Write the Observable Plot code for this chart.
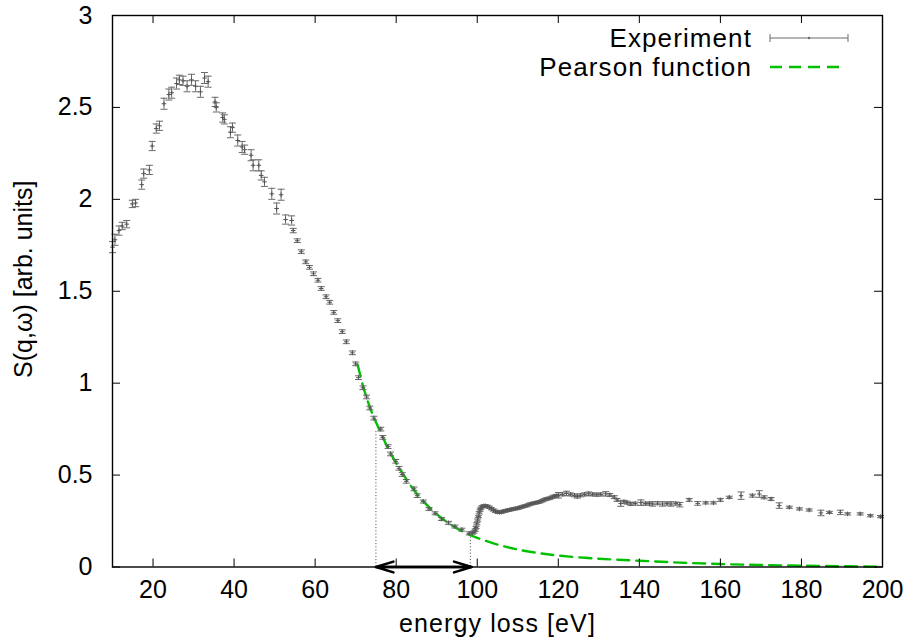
<!DOCTYPE html>
<html><head><meta charset="utf-8">
<script src="https://cdn.jsdelivr.net/npm/d3@7"></script>
<script src="https://cdn.jsdelivr.net/npm/@observablehq/plot@0.6"></script>
<style>body{margin:0;background:#fff;font-family:"Liberation Sans",Arial,sans-serif}</style>
</head><body><div id="chart"></div>
<script>
// Experiment: energy loss [eV], S(q,w), error
const energy = [10.0,10.6,11.6,12.4,13.5,14.9,15.7,17.2,17.7,19.1,19.8,20.8,21.6,22.7,23.9,24.6,25.8,26.5,27.4,28.4,29.5,30.5,31.7,32.7,33.6,35.3,35.6,37.2,37.6,39.1,39.6,40.9,42.0,42.6,44.2,44.7,46.1,46.7,47.5,49.3,50.5,51.6,52.7,54.2,54.6,55.6,56.6,57.7,58.6,59.6,60.7,61.5,62.7,63.6,64.6,65.6,66.7,67.7,69.2,70.0,70.7,71.8,72.7,73.5,74.5,76.2,76.7,78.0,78.6,79.9,80.7,81.5,82.5,84.4,85.2,86.7,88.1,89.6,91.2,92.9,94.5,96.2,98.0,98.8,99.2,99.5,99.7,99.9,100.1,100.3,100.5,100.7,100.9,101.2,101.6,102.0,102.5,103.0,103.5,104.0,104.5,105.0,105.5,106.0,106.5,107.0,107.5,108.0,108.5,109.0,109.5,110.0,110.5,111.0,111.5,112.0,112.5,113.0,113.5,114.0,114.5,115.0,115.5,116.0,116.5,117.0,117.5,118.0,118.5,119.0,119.5,120.0,121.0,122.0,123.0,124.0,124.7,125.5,126.5,127.5,128.5,129.5,130.5,131.7,132.7,133.8,134.5,135.4,136.2,137.0,137.9,139.0,140.4,141.5,142.5,143.3,144.5,145.7,146.8,147.8,149.0,150.0,152.3,154.4,156.4,158.3,160.0,162.2,165.1,167.9,169.6,170.8,172.5,174.5,177.0,179.5,181.9,184.8,186.9,189.6,191.4,194.5,197.0,199.5];
const sqw = [1.74,1.78,1.83,1.855,1.865,1.975,1.98,2.08,2.14,2.16,2.29,2.385,2.40,2.52,2.57,2.58,2.63,2.65,2.645,2.615,2.65,2.615,2.585,2.66,2.64,2.53,2.50,2.445,2.435,2.365,2.39,2.32,2.285,2.27,2.24,2.185,2.185,2.13,2.095,2.03,1.95,2.025,1.89,1.885,1.83,1.775,1.715,1.66,1.63,1.595,1.56,1.515,1.47,1.44,1.385,1.34,1.28,1.225,1.165,1.105,1.03,0.975,0.925,0.865,0.81,0.75,0.705,0.655,0.615,0.575,0.537,0.503,0.466,0.425,0.388,0.356,0.316,0.292,0.261,0.24,0.22,0.203,0.183,0.185,0.19,0.20,0.215,0.235,0.255,0.275,0.295,0.31,0.32,0.328,0.332,0.333,0.33,0.325,0.317,0.31,0.303,0.299,0.297,0.299,0.303,0.306,0.308,0.311,0.313,0.316,0.318,0.32,0.323,0.327,0.33,0.333,0.337,0.342,0.345,0.347,0.35,0.352,0.355,0.36,0.365,0.37,0.372,0.375,0.38,0.385,0.388,0.39,0.395,0.40,0.395,0.39,0.383,0.39,0.395,0.398,0.395,0.393,0.395,0.398,0.392,0.38,0.365,0.345,0.355,0.35,0.343,0.345,0.35,0.345,0.345,0.343,0.347,0.343,0.345,0.343,0.345,0.339,0.365,0.346,0.349,0.349,0.365,0.379,0.388,0.388,0.397,0.379,0.37,0.334,0.325,0.316,0.31,0.294,0.297,0.297,0.289,0.289,0.279,0.274];
const sqwErr = [0.03,0.03,0.025,0.02,0.02,0.02,0.02,0.025,0.025,0.025,0.025,0.025,0.025,0.03,0.03,0.03,0.03,0.025,0.025,0.03,0.03,0.03,0.03,0.03,0.03,0.025,0.025,0.025,0.025,0.03,0.025,0.03,0.03,0.025,0.03,0.03,0.03,0.025,0.025,0.03,0.03,0.03,0.025,0.025,0.012,0.01,0.01,0.01,0.01,0.01,0.01,0.01,0.01,0.01,0.01,0.01,0.01,0.01,0.01,0.01,0.01,0.01,0.01,0.01,0.01,0.01,0.01,0.01,0.01,0.01,0.01,0.01,0.01,0.01,0.01,0.008,0.008,0.008,0.008,0.008,0.008,0.008,0.008,0.006,0.006,0.006,0.006,0.006,0.006,0.006,0.006,0.006,0.006,0.006,0.006,0.006,0.006,0.006,0.006,0.006,0.006,0.006,0.006,0.006,0.006,0.006,0.006,0.006,0.006,0.006,0.006,0.006,0.006,0.006,0.006,0.006,0.006,0.006,0.006,0.006,0.006,0.006,0.006,0.006,0.006,0.006,0.006,0.006,0.006,0.006,0.006,0.015,0.008,0.012,0.008,0.008,0.008,0.008,0.008,0.01,0.008,0.008,0.008,0.012,0.008,0.008,0.008,0.015,0.008,0.008,0.008,0.008,0.015,0.008,0.008,0.012,0.008,0.012,0.008,0.012,0.008,0.012,0.008,0.01,0.006,0.006,0.008,0.006,0.02,0.008,0.018,0.008,0.008,0.015,0.006,0.006,0.006,0.015,0.006,0.012,0.006,0.006,0.006,0.006];
// Pearson function fit
const pearsonEnergy = [70.5,72,74,76,78,80,82,84,86,88,90,92,94,96,98,100,105,110,115,120,130,140,150,160,170,180,190,200];
const pearsonS = [1.10,0.97,0.84,0.74,0.645,0.565,0.495,0.43,0.375,0.328,0.288,0.253,0.223,0.197,0.176,0.158,0.122,0.095,0.076,0.062,0.045,0.034,0.024,0.016,0.011,0.007,0.004,0.002];
// dotted markers and arrow
const markerEnergy = [75.0, 98.3];
const markerTop = [0.745, 0.17];
const arrowFrom = [98.6, 75.0];
const arrowTo = [75.0, 98.6];
const xTicks = [20,40,60,80,100,120,140,160,180,200];
const yTicks = [0,0.5,1,1.5,2,2.5,3];
const legendLabels = ["Experiment", "Pearson function"];
const xTitle = "energy loss [eV]";
const yTitle = "S(q,ω) [arb. units]";

const expData = energy.map((e, i) => ({e, s: sqw[i], lo: sqw[i] - sqwErr[i], hi: sqw[i] + sqwErr[i]}));
const fitData = pearsonEnergy.map((e, i) => ({e, s: pearsonS[i]}));
const markers = markerEnergy.map((e, i) => ({e, top: markerTop[i]}));
const arrows = arrowFrom.map((a, i) => ({x1: a, x2: arrowTo[i], y: 0}));

const W = 913, H = 643, ML = 112, MR = 31, MT = 15, MB = 76.5;
const FW = W - ML - MR, FH = H - MT - MB, TICK = 8;
const FS = 25;
const gray = "#6a6a6a";
const green = "#00c000";
const capSymbol = {draw(ctx, size) { const r = Math.sqrt(size / Math.PI); ctx.moveTo(-r, 0); ctx.lineTo(r, 0); }};

function legend(index, scales, values, dims) {
  const right = dims.width - dims.marginRight;
  const top = dims.marginTop;
  const g = d3.create("svg:g");
  const rows = [{label: legendLabels[0], y: top + 23}, {label: legendLabels[1], y: top + 52}];
  rows.forEach((r) => {
    g.append("text").attr("x", right - 130).attr("y", r.y).attr("text-anchor", "end")
      .attr("dy", "0.35em").attr("font-size", 26).attr("letter-spacing", "1.1px")
      .attr("font-family", "'Liberation Sans', Arial, sans-serif").attr("fill", "#000").text(r.label);
  });
  const y0 = rows[0].y, x0 = right - 112, x1 = right - 34;
  g.append("line").attr("x1", x0).attr("x2", x1).attr("y1", y0).attr("y2", y0).attr("stroke", gray);
  g.append("line").attr("x1", x0).attr("x2", x0).attr("y1", y0 - 4).attr("y2", y0 + 4).attr("stroke", gray);
  g.append("line").attr("x1", x1).attr("x2", x1).attr("y1", y0 - 4).attr("y2", y0 + 4).attr("stroke", gray);
  g.append("circle").attr("cx", (x0 + x1) / 2).attr("cy", y0).attr("r", 1.2).attr("fill", gray);
  const y1 = rows[1].y;
  g.append("line").attr("x1", x0).attr("x2", right - 40).attr("y1", y1).attr("y2", y1)
    .attr("stroke", green).attr("stroke-width", 2.4).attr("stroke-dasharray", "12,7");
  return g.node();
}

const chart = Plot.plot({
  width: W, height: H,
  marginLeft: ML, marginRight: MR, marginTop: MT, marginBottom: MB,
  style: {fontFamily: "'Liberation Sans', Arial, sans-serif", background: "#fff", color: "#000"},
  x: {domain: [10, 200]},
  y: {domain: [0, 3]},
  marks: [
    Plot.ruleX(markers, {x: "e", y1: 0, y2: "top", stroke: "#444", strokeDasharray: "1,2.2", strokeWidth: 1}),
    Plot.line(fitData, {x: "e", y: "s", stroke: green, strokeWidth: 2.4, strokeDasharray: "12,7", curve: "catmull-rom"}),
    Plot.ruleX(expData, {x: "e", y1: "lo", y2: "hi", stroke: gray, strokeWidth: 1}),
    Plot.dot(expData, {x: "e", y: "lo", symbol: capSymbol, r: 3.5, stroke: gray, fill: "none", strokeWidth: 1}),
    Plot.dot(expData, {x: "e", y: "hi", symbol: capSymbol, r: 3.5, stroke: gray, fill: "none", strokeWidth: 1}),
    Plot.dot(expData, {x: "e", y: "s", symbol: "plus", r: 1.6, stroke: "#555", strokeWidth: 1}),
    Plot.arrow(arrows, {x1: "x1", x2: "x2", y1: "y", y2: "y", stroke: "#000", strokeWidth: 2.5, headLength: 11, headAngle: 34}),
    Plot.ruleX(xTicks, {insetTop: FH - TICK, stroke: "#000"}),
    Plot.ruleX(xTicks, {insetBottom: FH - TICK, stroke: "#000"}),
    Plot.ruleY(yTicks, {insetRight: FW - TICK, stroke: "#000"}),
    Plot.ruleY(yTicks, {insetLeft: FW - TICK, stroke: "#000"}),
    Plot.axisX(xTicks, {tickSize: 0, tickPadding: 13, fontSize: FS, label: null, tickFormat: (d) => String(d)}),
    Plot.axisY(yTicks, {tickSize: 0, tickPadding: 20, fontSize: FS, label: null, tickFormat: (d) => String(d)}),
    Plot.text([xTitle], {frameAnchor: "bottom", dy: 57, lineAnchor: "middle", textAnchor: "middle", fontSize: FS, fill: "#000"}),
    Plot.text([yTitle], {frameAnchor: "left", dx: -89, dy: -12, rotate: -90, lineAnchor: "middle", textAnchor: "middle", fontSize: FS, fill: "#000"}),
    Plot.frame({stroke: "#000", strokeWidth: 1.4}),
    legend
  ]
});
d3.select(chart).selectAll("text").filter(function () { return this.textContent === xTitle; })
  .attr("letter-spacing", "1.1px");
document.getElementById("chart").append(chart);
</script>
</body></html>
